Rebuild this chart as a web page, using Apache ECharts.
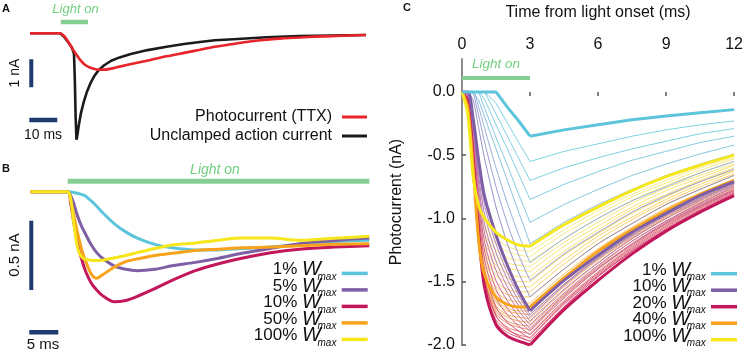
<!DOCTYPE html>
<html>
<head>
<meta charset="utf-8">
<script src="https://cdn.jsdelivr.net/npm/echarts@6/dist/echarts.min.js"></script>
<style>
  html, body { margin: 0; padding: 0; background: #fff; }
  #chart { width: 746px; height: 358px; }
</style>
</head>
<body>
<div id="chart"></div>
<script>
// ---- Panel A: photocurrent vs unclamped action current (ms, nA) ----
const photoT = [0, 10.7, 12, 13, 14.3, 16, 17.9, 19.6, 21.4, 23.8, 26, 28.6, 32, 37, 43, 48.8, 55, 60.7, 66, 72.6, 78, 84.5, 90, 96.4, 102, 108, 114, 120];
const photoI = [0, 0, -0.08, -0.2, -0.41, -0.68, -0.95, -1.12, -1.22, -1.29, -1.3, -1.27, -1.19, -1.08, -0.95, -0.82, -0.7, -0.59, -0.48, -0.38, -0.3, -0.23, -0.18, -0.15, -0.12, -0.1, -0.08, -0.06];
const actionT = [0, 10.7, 12, 13.5, 14.9, 15.7, 16.0, 16.3, 16.6, 16.9, 17.4, 18.2, 19.2, 20.3, 21.6, 23, 24.5, 26.5, 29, 32, 36, 42, 48.8, 55, 60.7, 66, 72.6, 84.5, 96, 108, 120];
const actionI = [0, 0, -0.1, -0.3, -0.5, -0.72, -1.6, -3.0, -3.8, -3.65, -3.3, -2.85, -2.45, -2.1, -1.78, -1.52, -1.32, -1.14, -0.98, -0.86, -0.74, -0.6, -0.48, -0.38, -0.31, -0.25, -0.21, -0.14, -0.1, -0.08, -0.06];
const lightA = [11, 20.7];

// ---- Panel B: photocurrent for several W_max (ms from light onset, nA) ----
const bT = [-6.4, 0, 0.5, 1, 1.5, 2, 2.5, 3, 4, 5, 6, 8, 10, 12, 15, 18, 22, 26, 30, 35, 40, 46, 52];
const b1 = [0, 0, -0.002, -0.005, -0.01, -0.015, -0.022, -0.03, -0.065, -0.105, -0.15, -0.23, -0.29, -0.335, -0.38, -0.405, -0.42, -0.42, -0.41, -0.4, -0.38, -0.36, -0.35];
const b5 = [0, 0, -0.03, -0.08, -0.15, -0.21, -0.26, -0.3, -0.38, -0.44, -0.48, -0.535, -0.56, -0.57, -0.56, -0.535, -0.51, -0.48, -0.445, -0.41, -0.375, -0.352, -0.335];
const b10 = [0, 0, -0.08, -0.21, -0.33, -0.43, -0.5, -0.565, -0.655, -0.71, -0.75, -0.795, -0.785, -0.755, -0.7, -0.64, -0.57, -0.52, -0.48, -0.44, -0.415, -0.4, -0.39];
const b50 = [0, 0, -0.06, -0.16, -0.26, -0.35, -0.43, -0.49, -0.59, -0.625, -0.6, -0.545, -0.505, -0.485, -0.46, -0.445, -0.425, -0.415, -0.405, -0.4, -0.39, -0.38, -0.375];
const b100 = [0, 0, -0.05, -0.21, -0.36, -0.445, -0.475, -0.487, -0.495, -0.497, -0.495, -0.478, -0.46, -0.44, -0.41, -0.385, -0.37, -0.35, -0.335, -0.335, -0.35, -0.336, -0.322];
const bNames = ['1%', '5%', '10%', '50%', '100%'];
const lightB = [0, 52];

// ---- Panel C: time from light onset (ms) vs photocurrent (nA) ----
// points 0..8 are during light (0-3 ms), 8..14 after light off
const cT = [0, 0.25, 0.5, 0.75, 1, 1.5, 2, 2.5, 3, 4.5, 6, 7.5, 9, 10.5, 12];
const cW1 = [0, 0, 0, 0, 0, 0, -0.12, -0.23, -0.35, -0.3, -0.26, -0.22, -0.19, -0.165, -0.14];
const cW10 = [0, 0, -0.22, -0.56, -0.83, -1.13, -1.37, -1.57, -1.73, -1.49, -1.29, -1.11, -0.96, -0.82, -0.71];
const cW20 = [0, -0.08, -0.55, -1.15, -1.55, -1.84, -1.93, -1.97, -2.0, -1.72, -1.49, -1.28, -1.1, -0.95, -0.82];
const cW40 = [0, -0.12, -0.62, -1.2, -1.45, -1.62, -1.68, -1.7, -1.7, -1.47, -1.26, -1.09, -0.94, -0.81, -0.7];
const cW100 = [0, -0.17, -0.68, -0.91, -1.0, -1.11, -1.17, -1.21, -1.22, -1.05, -0.91, -0.78, -0.67, -0.58, -0.5];
// 2..9 %
const cThinBlue = [
  [0, 0, 0, 0, 0, -0.09, -0.245, -0.4, -0.55, -0.47, -0.41, -0.35, -0.3, -0.26, -0.23],
  [0, 0, 0, 0, 0, -0.175, -0.35, -0.525, -0.7, -0.6, -0.52, -0.45, -0.39, -0.33, -0.29],
  [0, 0, 0, 0, -0.06, -0.26, -0.45, -0.65, -0.85, -0.73, -0.63, -0.54, -0.47, -0.4, -0.35],
  [0, 0, 0, -0.01, -0.13, -0.36, -0.58, -0.81, -1.03, -0.89, -0.77, -0.66, -0.57, -0.49, -0.42],
  [0, 0, 0, -0.07, -0.2, -0.45, -0.7, -0.95, -1.2, -1.03, -0.89, -0.77, -0.66, -0.57, -0.49],
  [0, 0, 0, -0.13, -0.29, -0.6, -0.88, -1.13, -1.35, -1.16, -1.0, -0.86, -0.75, -0.64, -0.55],
  [0, 0, -0.02, -0.2, -0.4, -0.75, -1.04, -1.29, -1.49, -1.28, -1.11, -0.95, -0.82, -0.71, -0.61],
  [0, 0, -0.07, -0.3, -0.53, -0.91, -1.2, -1.43, -1.62, -1.4, -1.2, -1.04, -0.89, -0.77, -0.66]
];
// 11..19 %
const cThinPink = [
  [0, -0.01, -0.25, -0.62, -0.9, -1.2, -1.43, -1.61, -1.76, -1.52, -1.31, -1.13, -0.97, -0.84, -0.72],
  [0, -0.02, -0.29, -0.68, -0.97, -1.27, -1.48, -1.65, -1.78, -1.53, -1.32, -1.14, -0.98, -0.85, -0.73],
  [0, -0.02, -0.32, -0.74, -1.05, -1.34, -1.54, -1.69, -1.81, -1.56, -1.35, -1.16, -1.0, -0.86, -0.74],
  [0, -0.03, -0.35, -0.8, -1.12, -1.41, -1.59, -1.73, -1.84, -1.59, -1.37, -1.18, -1.02, -0.88, -0.75],
  [0, -0.04, -0.39, -0.86, -1.19, -1.49, -1.65, -1.77, -1.87, -1.61, -1.39, -1.2, -1.03, -0.89, -0.77],
  [0, -0.05, -0.42, -0.91, -1.26, -1.56, -1.71, -1.81, -1.89, -1.63, -1.4, -1.21, -1.04, -0.9, -0.78],
  [0, -0.06, -0.45, -0.97, -1.33, -1.63, -1.76, -1.85, -1.92, -1.66, -1.43, -1.23, -1.06, -0.91, -0.79],
  [0, -0.06, -0.49, -1.03, -1.41, -1.7, -1.82, -1.89, -1.95, -1.68, -1.45, -1.25, -1.08, -0.93, -0.8],
  [0, -0.07, -0.52, -1.09, -1.48, -1.77, -1.87, -1.93, -1.97, -1.7, -1.46, -1.26, -1.09, -0.94, -0.81]
];
// 22..38 %
const cThinRed = [
  [0, -0.08, -0.56, -1.16, -1.54, -1.82, -1.9, -1.94, -1.97, -1.7, -1.46, -1.26, -1.09, -0.94, -0.81],
  [0, -0.09, -0.56, -1.16, -1.53, -1.8, -1.88, -1.92, -1.94, -1.67, -1.44, -1.24, -1.07, -0.92, -0.8],
  [0, -0.09, -0.57, -1.17, -1.52, -1.77, -1.86, -1.89, -1.91, -1.65, -1.42, -1.22, -1.05, -0.91, -0.78],
  [0, -0.1, -0.58, -1.17, -1.51, -1.75, -1.83, -1.86, -1.88, -1.62, -1.4, -1.2, -1.04, -0.9, -0.77],
  [0, -0.1, -0.58, -1.17, -1.5, -1.73, -1.81, -1.84, -1.85, -1.6, -1.38, -1.18, -1.02, -0.88, -0.76],
  [0, -0.1, -0.59, -1.18, -1.49, -1.71, -1.78, -1.81, -1.82, -1.57, -1.35, -1.16, -1.0, -0.87, -0.75],
  [0, -0.11, -0.6, -1.18, -1.48, -1.69, -1.76, -1.78, -1.79, -1.54, -1.33, -1.15, -0.99, -0.85, -0.73],
  [0, -0.11, -0.61, -1.19, -1.47, -1.66, -1.73, -1.75, -1.76, -1.52, -1.31, -1.13, -0.97, -0.84, -0.72],
  [0, -0.12, -0.61, -1.19, -1.46, -1.64, -1.71, -1.73, -1.73, -1.49, -1.29, -1.11, -0.96, -0.82, -0.71]
];
// 45..95 %
const cThinGold = [
  [0, -0.12, -0.63, -1.18, -1.41, -1.58, -1.64, -1.66, -1.67, -1.44, -1.24, -1.07, -0.92, -0.8, -0.69],
  [0, -0.13, -0.63, -1.16, -1.38, -1.54, -1.6, -1.62, -1.62, -1.4, -1.2, -1.04, -0.89, -0.77, -0.66],
  [0, -0.13, -0.64, -1.14, -1.34, -1.5, -1.56, -1.58, -1.58, -1.36, -1.17, -1.01, -0.87, -0.75, -0.65],
  [0, -0.14, -0.65, -1.12, -1.31, -1.45, -1.51, -1.54, -1.54, -1.33, -1.14, -0.99, -0.85, -0.73, -0.63],
  [0, -0.14, -0.65, -1.1, -1.27, -1.41, -1.47, -1.5, -1.5, -1.29, -1.12, -0.96, -0.83, -0.71, -0.62],
  [0, -0.15, -0.66, -1.08, -1.24, -1.37, -1.43, -1.46, -1.46, -1.26, -1.09, -0.93, -0.81, -0.7, -0.6],
  [0, -0.15, -0.67, -1.05, -1.2, -1.33, -1.39, -1.41, -1.42, -1.22, -1.06, -0.91, -0.78, -0.68, -0.58],
  [0, -0.15, -0.67, -1.03, -1.16, -1.29, -1.35, -1.37, -1.38, -1.19, -1.03, -0.88, -0.76, -0.66, -0.57],
  [0, -0.16, -0.68, -1.01, -1.13, -1.25, -1.31, -1.33, -1.34, -1.16, -1.0, -0.86, -0.74, -0.64, -0.55],
  [0, -0.16, -0.69, -0.99, -1.09, -1.2, -1.26, -1.29, -1.3, -1.12, -0.97, -0.83, -0.72, -0.62, -0.53],
  [0, -0.17, -0.69, -0.97, -1.06, -1.16, -1.22, -1.25, -1.26, -1.09, -0.94, -0.81, -0.7, -0.6, -0.52]
];
const cNames = ['1%', '10%', '20%', '40%', '100%'];
const lightC = [0, 3];
const cYTicks = [-2, -1.5, -1, -0.5, 0];

// ---- styles ----
const FONT = "'Liberation Sans', Arial, Helvetica, sans-serif";
const NAVY = '#1f3a6e';
const GREEN = '#86cf94';
const GREEN_TXT = '#6fcf7e';
const CYAN = '#5cc4db', PURPLE = '#7e5fa5', CRIMSON = '#c2185b', ORANGE = '#f9a21c', YELLOW = '#f6e61c';
const blueCols = ['#72cde1', '#72cbe0', '#74c8df', '#78c2de', '#7fbadb', '#8aa7d5', '#8c95cc', '#8a82bf'];
const pinkCols = ['#a477b4', '#ad71ad', '#b66ba6', '#be659e', '#c55f96', '#cb598e', '#d05286', '#d44c7d', '#d74674'];
const redCols = ['#db5468', '#e06562', '#e4765d', '#e88558', '#ec9353', '#ef9f4e', '#f2a84a', '#f4af48', '#f6b446'];
const goldCols = ['#f8bb4c', '#f8c351', '#f8ca56', '#f8d05b', '#f7d660', '#f7db65', '#f7df6a', '#f6e26f', '#f6e574', '#f6e779', '#f6e97e'];

function pairs(ts, vs) { return ts.map((t, i) => [t, vs[i]]); }

function line(name, grid, data, color, width, z, smooth) {
  return {
    type: 'line', name: name, xAxisIndex: grid, yAxisIndex: grid,
    data: data, showSymbol: false, symbol: 'none', silent: true,
    smooth: smooth || false, z: z || 2,
    lineStyle: { color: color, width: width },
    itemStyle: { color: color }
  };
}

// a panel C curve: light-on part and decay part drawn separately so the kink at 3 ms stays sharp
function cCurve(name, vals, color, width, z, smooth) {
  const pts = pairs(cT, vals);
  return [
    line(name, 2, pts.slice(0, 9), color, width, z, smooth),
    line(name + ' off', 2, pts.slice(8), color, width, z, smooth)
  ];
}

const series = [];

// panel A
series.push(line('light A', 0, lightA.map(t => [t, 0.4]), GREEN, 4.5, 1));
series.push(line('Photocurrent (TTX)', 0, pairs(photoT, photoI), '#e8232a', 2.6, 3, 0.3));
series.push(line('Unclamped action current', 0, pairs(actionT, actionI), '#1b1b1b', 2.6, 2));
series.push(line('bar A y', 0, [[0.46, -0.93], [0.46, -1.93]], NAVY, 4, 1));
series.push(line('bar A x', 0, [[-0.25, -3.1], [9.75, -3.1]], NAVY, 4.5, 1));

// panel B
series.push(line('light B', 1, lightB.map(t => [t, 0.076]), GREEN, 5, 1));
const bCols = [CYAN, PURPLE, CRIMSON, ORANGE, YELLOW];
[b1, b5, b10, b50, b100].forEach((vals, i) => {
  series.push(line('B ' + bNames[i], 1, pairs(bT, vals), bCols[i], 3, 2 + i, 0.3));
});
series.push(line('bar B y', 1, [[-6.28, -0.209], [-6.28, -0.709]], NAVY, 4, 1));
series.push(line('bar B x', 1, [[-6.62, -1.014], [-1.62, -1.014]], NAVY, 4.5, 1));

// panel C
series.push(line('light C', 2, lightC.map(t => [t, 0.11]), GREEN, 4, 1));
cThinGold.forEach((v, i) => series.push(...cCurve('g' + i, v, goldCols[i], 0.9, 2, 0.3)));
cThinRed.forEach((v, i) => series.push(...cCurve('r' + i, v, redCols[i], 0.9, 2, 0.3)));
cThinPink.forEach((v, i) => series.push(...cCurve('p' + i, v, pinkCols[i], 0.9, 2, 0.3)));
cThinBlue.forEach((v, i) => series.push(...cCurve('b' + i, v, blueCols[i], 0.9, 2, i > 4 ? 0.2 : 0)));
series.push(...cCurve('C 20%', cW20, CRIMSON, 3, 3, 0.3));
series.push(...cCurve('C 40%', cW40, ORANGE, 3, 3, 0.3));
series.push(...cCurve('C 10%', cW10, PURPLE, 3, 3, 0.3));
series.push(...cCurve('C 100%', cW100, YELLOW, 3, 3, 0.3));
series.push(...cCurve('C 1%', cW1, CYAN, 3, 3, 0));

// legend label "x% W_max": text sits a little above the sample line, "max" as subscript
const richW = {
  p: { fontSize: 17, height: 16.6, align: 'left', verticalAlign: 'top', fontFamily: FONT, color: '#111' },
  w: { fontSize: 20, height: 16.6, width: 15.5, align: 'left', verticalAlign: 'top', fontStyle: 'italic', fontFamily: FONT, color: '#111' },
  s: { fontSize: 10, height: 17, align: 'left', verticalAlign: 'bottom', fontStyle: 'italic', fontFamily: FONT, color: '#111' },
  e: { fontSize: 1, lineHeight: 24, align: 'left', fontFamily: FONT }
};
function wLabel(name) { return '{p|' + name.split(' ')[1] + ' }{w|W}{s|max}{e| }'; }

function wLegend(right, top, names) {
  return {
    orient: 'vertical', right: right, top: top, padding: 0, itemGap: -5.7,
    itemWidth: 26, itemHeight: 3.5, icon: 'rect', align: 'right', selectedMode: false,
    data: names, formatter: wLabel,
    textStyle: { rich: richW }
  };
}

function txt(x, y, text, font, fill, rotation) {
  const el = {
    type: 'text', x: x, y: y,
    style: { text: text, fill: fill || '#111', font: font, align: 'center', verticalAlign: 'middle' }
  };
  if (rotation) el.rotation = rotation;
  return el;
}

const chart = echarts.init(document.getElementById('chart'), null, { renderer: 'canvas' });

chart.setOption({
  animation: false,
  backgroundColor: '#fff',
  textStyle: { fontFamily: FONT },
  grid: [
    { left: 30, width: 336, top: 19.3, height: 126 },
    { left: 27.1, width: 342.2, top: 177.8, height: 180.3 },
    { left: 462, width: 276, top: 57, height: 288 }
  ],
  xAxis: [
    { type: 'value', gridIndex: 0, min: 0, max: 120, show: false },
    { type: 'value', gridIndex: 1, min: -7, max: 52, show: false },
    {
      type: 'value', gridIndex: 2, min: 0, max: 12, interval: 3, position: 'top',
      name: 'Time from light onset (ms)', nameLocation: 'middle', nameGap: 38,
      nameTextStyle: { fontSize: 16, color: '#111', fontFamily: FONT },
      axisLine: { show: false },
      axisTick: { show: true, inside: true, length: 4, lineStyle: { color: '#555', width: 1.5 } },
      axisLabel: { fontSize: 16, color: '#111', margin: 6, fontFamily: FONT },
      splitLine: { show: false }
    }
  ],
  yAxis: [
    { type: 'value', gridIndex: 0, min: -4, max: 0.5, show: false },
    { type: 'value', gridIndex: 1, min: -1.2, max: 0.1, show: false },
    {
      type: 'value', gridIndex: 2, min: -2, max: 0.26,
      name: 'Photocurrent (nA)', nameLocation: 'middle', nameGap: 57, nameRotate: 90,
      nameTextStyle: { fontSize: 16, color: '#111', fontFamily: FONT },
      axisLine: { show: true, lineStyle: { color: '#8c8c8c', width: 2 } },
      axisTick: { show: true, inside: true, length: 4, customValues: cYTicks, lineStyle: { color: '#555', width: 1.5 } },
      axisLabel: {
        fontSize: 16, color: '#111', margin: 7, fontFamily: FONT, customValues: cYTicks,
        formatter: function (v) { return v.toFixed(1); }
      },
      splitLine: { show: false }
    }
  ],
  legend: [
    {
      orient: 'vertical', right: 379, top: 107, padding: 0, itemGap: -1,
      itemWidth: 25, itemHeight: 3, icon: 'rect', align: 'right', selectedMode: false,
      data: ['Photocurrent (TTX)', 'Unclamped action current'],
      textStyle: { fontSize: 16, lineHeight: 16, padding: [0, 5, 4, 0], color: '#111', fontFamily: FONT }
    },
    wLegend(378.3, 259.7, bNames.map(n => 'B ' + n)),
    wLegend(9, 260, cNames.map(n => 'C ' + n))
  ],
  graphic: [
    txt(6, 9, 'A', 'bold 11px ' + FONT),
    txt(6, 169, 'B', 'bold 11px ' + FONT),
    txt(407, 8, 'C', 'bold 11px ' + FONT),
    txt(75.5, 9, 'Light on', 'italic 13px ' + FONT, GREEN_TXT),
    txt(215, 170, 'Light on', 'italic 14px ' + FONT, GREEN_TXT),
    txt(496, 64, 'Light on', 'italic 13.5px ' + FONT, GREEN_TXT),
    txt(15, 73, '1 nA', '14px ' + FONT, null, Math.PI / 2),
    txt(43, 135, '10 ms', '14px ' + FONT),
    txt(15, 255, '0.5 nA', '15px ' + FONT, null, Math.PI / 2),
    txt(43, 345, '5 ms', '15px ' + FONT)
  ],
  series: series
});
</script>
</body>
</html>
